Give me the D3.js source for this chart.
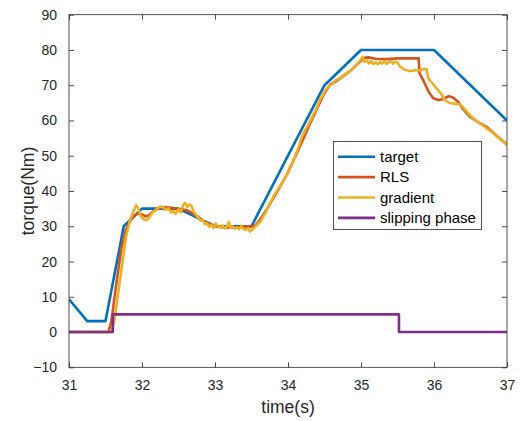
<!DOCTYPE html>
<html><head><meta charset="utf-8">
<script src="https://cdn.jsdelivr.net/npm/d3@7"></script>
<style>body{margin:0;background:#fff;}svg{display:block;font-family:"Liberation Sans",Arial,sans-serif;}</style>
</head><body>
<svg id="c" width="524" height="421"></svg>
<script>
// ---- data ----
const xTicks = [31, 32, 33, 34, 35, 36, 37];
const yTicks = [-10, 0, 10, 20, 30, 40, 50, 60, 70, 80, 90];
const seriesNames = ["target", "RLS", "gradient", "slipping phase"];
const seriesColors = ["#0072BD", "#D95319", "#EDB120", "#7E2F8E"];

const targetT = [31, 31.25, 31.5, 31.75, 32, 32.5, 33, 33.5, 34.5, 35, 36, 37];
const targetV = [9.3, 3.1, 3.1, 30, 35, 35, 30, 30, 70, 80, 80, 60];

const rlsT = [31.0, 31.54, 31.58, 31.65, 31.72, 31.78, 31.82, 31.87, 31.94, 32.0, 32.05, 32.1, 32.16, 32.22, 32.3, 32.38, 32.46, 32.54, 32.62, 32.7, 32.76, 32.82, 32.88, 32.94, 33.02, 33.1, 33.17, 33.3, 33.4, 33.49, 33.55, 33.62, 33.7, 33.8, 33.9, 34.0, 34.1, 34.2, 34.3, 34.4, 34.5, 34.58, 34.65, 34.75, 34.85, 34.95, 35.05, 35.1, 35.2, 35.35, 35.5, 35.65, 35.79, 35.8, 35.85, 35.93, 35.99, 36.06, 36.12, 36.2, 36.26, 36.33, 36.4, 36.49, 36.6, 36.72, 36.85, 37.0];
const rlsV = [0, 0, 3, 14, 24, 29, 30.8, 32.6, 33.6, 33.4, 32.8, 33.2, 34.3, 35.0, 35.4, 35.3, 35.0, 34.8, 34.5, 33.6, 32.8, 31.8, 31.0, 30.5, 30.0, 29.7, 29.6, 29.7, 29.9, 29.9, 30.2, 32.0, 34.5, 38.0, 41.5, 45.3, 49.8, 54.3, 59.0, 63.5, 67.8, 70.2, 71.0, 72.5, 74.0, 76.0, 77.8, 77.9, 77.5, 77.4, 77.6, 77.6, 77.6, 73.5, 71.5, 68.0, 66.3, 65.8, 66.0, 66.9, 66.5, 65.3, 63.2, 61.1, 59.6, 58.2, 55.8, 53.2];

const gradT = [31.0, 31.58, 31.62, 31.7, 31.78, 31.84, 31.88, 31.92, 31.95, 31.98, 32.02, 32.06, 32.1, 32.14, 32.18, 32.22, 32.26, 32.3, 32.33, 32.36, 32.4, 32.43, 32.46, 32.5, 32.53, 32.56, 32.59, 32.62, 32.65, 32.68, 32.71, 32.74, 32.77, 32.8, 32.83, 32.86, 32.89, 32.92, 32.95, 32.98, 33.01, 33.04, 33.07, 33.1, 33.13, 33.16, 33.19, 33.21, 33.24, 33.27, 33.3, 33.33, 33.36, 33.39, 33.42, 33.45, 33.48, 33.51, 33.54, 33.58, 33.63, 33.7, 33.76, 33.81, 33.86, 33.9, 33.95, 34.0, 34.03, 34.07, 34.11, 34.15, 34.19, 34.23, 34.27, 34.31, 34.35, 34.39, 34.43, 34.47, 34.51, 34.55, 34.6, 34.65, 34.7, 34.76, 34.82, 34.88, 34.93, 34.98, 35.02, 35.05, 35.08, 35.11, 35.14, 35.17, 35.2, 35.23, 35.26, 35.29, 35.32, 35.35, 35.38, 35.41, 35.44, 35.47, 35.5, 35.54, 35.6, 35.67, 35.74, 35.81, 35.86, 35.9, 35.92, 35.98, 36.04, 36.1, 36.15, 36.2, 36.24, 36.3, 36.36, 36.42, 36.49, 36.56, 36.64, 36.72, 36.8, 36.88, 36.95, 37.0];
const gradV = [0, 0, 3, 15, 27, 32, 34, 36, 35, 33, 32, 31.7, 32.5, 33.8, 34.5, 35.3, 35.6, 35.2, 34.6, 35.1, 33.9, 34.3, 33.5, 34.8, 34.0, 35.8, 36.6, 35.5, 36.2, 35.7, 34.0, 33.2, 32.4, 31.6, 31.9, 30.6, 30.9, 29.8, 30.4, 29.5, 30.8, 30.0, 29.6, 30.3, 29.4, 29.8, 31.2, 29.5, 30.0, 29.3, 29.7, 29.1, 30.1, 29.2, 29.0, 29.5, 28.5, 29.0, 29.6, 30.5, 31.5, 34.2, 36.8, 38.8, 40.4, 41.5, 43.5, 45.0, 46.9, 48.2, 50.6, 52.8, 55.4, 57.0, 58.5, 60.1, 61.9, 63.4, 65.6, 67.0, 68.6, 69.5, 70.2, 71.4, 71.8, 72.8, 73.5, 74.6, 75.5, 76.8, 78.0, 76.6, 77.0, 76.2, 76.8, 76.0, 76.5, 75.9, 76.6, 76.1, 76.8, 76.0, 76.5, 76.9, 76.1, 76.7, 76.4, 75.2, 74.4, 74.0, 74.2, 74.3, 74.6, 74.5, 72.0, 70.5, 69.0, 67.5, 65.8, 65.1, 64.9, 64.7, 64.6, 63.2, 61.5, 60.2, 59.0, 57.8, 56.6, 55.2, 54.0, 53.0];

const slipT = [31, 31.6, 31.6, 35.52, 35.52, 37];
const slipV = [0, 0, 5, 5, 0, 0];

// ---- layout ----
const L = 69, R = 507, T = 14.7, B = 367.3;
const svg = d3.select("#c");
const x = d3.scaleLinear().domain([31, 37]).range([L, R]);
const y = d3.scaleLinear().domain([-10, 90]).range([B, T]);
const axisColor = "#262626";

svg.append("defs").append("clipPath").attr("id", "clip")
  .append("rect").attr("x", L).attr("y", T).attr("width", R - L).attr("height", B - T);

function styleAxis(g, hideLabels) {
  g.select(".domain").remove();
  g.selectAll(".tick line").attr("stroke", axisColor).attr("stroke-width", 0.8);
  g.selectAll(".tick text").attr("fill", axisColor).style("font-size", "14px")
    .style("font-family", "'Liberation Sans', Arial, sans-serif");
  if (hideLabels) g.selectAll(".tick text").remove();
}
svg.append("g").attr("transform", `translate(0,${B})`)
  .call(d3.axisBottom(x).tickValues(xTicks).tickFormat(d3.format("d")).tickSizeInner(-5).tickSizeOuter(0).tickPadding(13))
  .call(g => styleAxis(g, false));
svg.append("g").attr("transform", `translate(0,${T})`)
  .call(d3.axisTop(x).tickValues(xTicks).tickSizeInner(-5).tickSizeOuter(0))
  .call(g => styleAxis(g, true));
svg.append("g").attr("transform", `translate(${L},0)`)
  .call(d3.axisLeft(y).tickValues(yTicks).tickFormat(d3.format("d")).tickSizeInner(-5).tickSizeOuter(0).tickPadding(12))
  .call(g => styleAxis(g, false));
svg.append("g").attr("transform", `translate(${R},0)`)
  .call(d3.axisRight(y).tickValues(yTicks).tickSizeInner(-5).tickSizeOuter(0))
  .call(g => styleAxis(g, true));

const line = d3.line().x(d => x(d[0])).y(d => y(d[1]));
const plot = svg.append("g").attr("clip-path", "url(#clip)");
const series = [
  d3.zip(targetT, targetV),
  d3.zip(rlsT, rlsV),
  d3.zip(gradT, gradV),
  d3.zip(slipT, slipV)
];
series.forEach((s, i) => {
  plot.append("path").datum(s).attr("d", line)
    .attr("fill", "none").attr("stroke", seriesColors[i])
    .attr("stroke-width", 2.6).attr("stroke-linejoin", "round");
});

// box
svg.append("rect").attr("x", L).attr("y", T).attr("width", R - L).attr("height", B - T)
  .attr("fill", "none").attr("stroke", axisColor).attr("stroke-width", 0.8);

// axis labels
svg.append("text").attr("x", (L + R) / 2).attr("y", 413).attr("text-anchor", "middle")
  .attr("fill", axisColor).style("font-size", "17.5px").text("time(s)");
svg.append("text").attr("transform", `translate(34,${(T + B) / 2}) rotate(-90)`)
  .attr("text-anchor", "middle").attr("fill", axisColor).style("font-size", "17.5px").text("torque(Nm)");

// legend
const lg = svg.append("g");
lg.append("rect").attr("x", 333.5).attr("y", 141.5).attr("width", 148).attr("height", 88)
  .attr("fill", "#fff").attr("stroke", axisColor).attr("stroke-width", 0.8);
seriesNames.forEach((n, i) => {
  const yy = 156.7 + i * 20.4;
  lg.append("line").attr("x1", 338).attr("x2", 375).attr("y1", yy).attr("y2", yy)
    .attr("stroke", seriesColors[i]).attr("stroke-width", 2.6);
  lg.append("text").attr("x", 380).attr("y", yy + 5).attr("fill", "#000")
    .style("font-size", "15px").text(n);
});
</script>
</body></html>
